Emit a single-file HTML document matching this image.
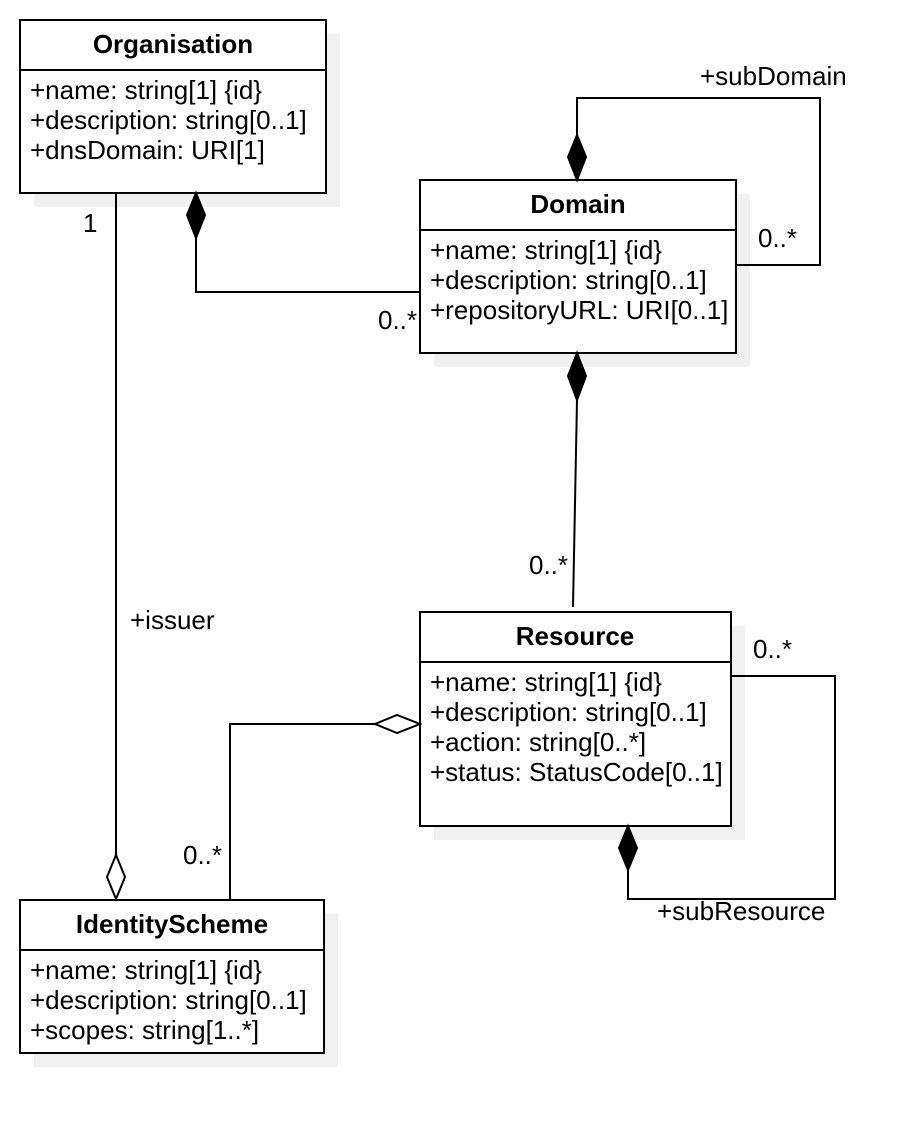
<!DOCTYPE html>
<html><head><style>body{margin:0;background:#fff}svg{display:block}</style></head><body>
<svg width="924" height="1134" xmlns="http://www.w3.org/2000/svg" font-family="Liberation Sans, Arial, sans-serif" font-size="26">
<g fill="#f0f0f0">
<rect x="34" y="34" width="306" height="173"/>
<rect x="434" y="194" width="316" height="173"/>
<rect x="434" y="626" width="311" height="214"/>
<rect x="34" y="914" width="304" height="153"/>
</g>
<g fill="#fff" stroke="#000" stroke-width="2">
<rect x="20" y="20" width="306" height="173"/>
<rect x="420" y="180" width="316" height="173"/>
<rect x="420" y="612" width="311" height="214"/>
<rect x="20" y="900" width="304" height="153"/>
</g>
<g stroke="#000" stroke-width="2" fill="none">
<line x1="20" y1="70" x2="326" y2="70"/>
<line x1="420" y1="230" x2="736" y2="230"/>
<line x1="420" y1="662" x2="731" y2="662"/>
<line x1="20" y1="950" x2="324" y2="950"/>
<polyline points="196,238 196,292 420,292"/>
<line x1="116" y1="193" x2="116" y2="855"/>
<polyline points="577,135 577,98 820,98 820,265 736,265"/>
<line x1="577" y1="400" x2="573" y2="607"/>
<polyline points="375,724 230,724 230,900"/>
<polyline points="731,676 835,676 835,899 628,899 628,870"/>
</g>
<g stroke="#000" stroke-width="2" fill="#000">
<polygon points="196,193 205,215 196,238 187,215"/>
<polygon points="577,135 586,157 577,180 568,157"/>
<polygon points="577,353 586,376 577,400 568,376"/>
<polygon points="628,826 637,848 628,870 619,848"/>
</g>
<g stroke="#000" stroke-width="2" fill="#fff">
<polygon points="116,855 125,877 116,899 107,877"/>
<polygon points="375,724 397,715 420,724 397,733"/>
</g>
<g font-weight="bold" text-anchor="middle" font-size="26">
<text x="173" y="53">Organisation</text>
<text x="578" y="213">Domain</text>
<text x="575" y="645">Resource</text>
<text x="172" y="933">IdentityScheme</text>
</g>
<g font-size="26">
<text x="30" y="99">+name: string[1] {id}</text>
<text x="30" y="129">+description: string[0..1]</text>
<text x="30" y="159">+dnsDomain: URI[1]</text>
<text x="430" y="259">+name: string[1] {id}</text>
<text x="430" y="289">+description: string[0..1]</text>
<text x="430" y="319">+repositoryURL: URI[0..1]</text>
<text x="430" y="691">+name: string[1] {id}</text>
<text x="430" y="721">+description: string[0..1]</text>
<text x="430" y="751">+action: string[0..*]</text>
<text x="430" y="781">+status: StatusCode[0..1]</text>
<text x="30" y="979">+name: string[1] {id}</text>
<text x="30" y="1009">+description: string[0..1]</text>
<text x="30" y="1039">+scopes: string[1..*]</text>
<text x="83" y="232">1</text>
<text x="378" y="329">0..*</text>
<text x="700" y="85">+subDomain</text>
<text x="758" y="247">0..*</text>
<text x="529" y="574">0..*</text>
<text x="130" y="629">+issuer</text>
<text x="183" y="864">0..*</text>
<text x="753" y="658">0..*</text>
<text x="657" y="920">+subResource</text>
</g>
</svg>
</body></html>
